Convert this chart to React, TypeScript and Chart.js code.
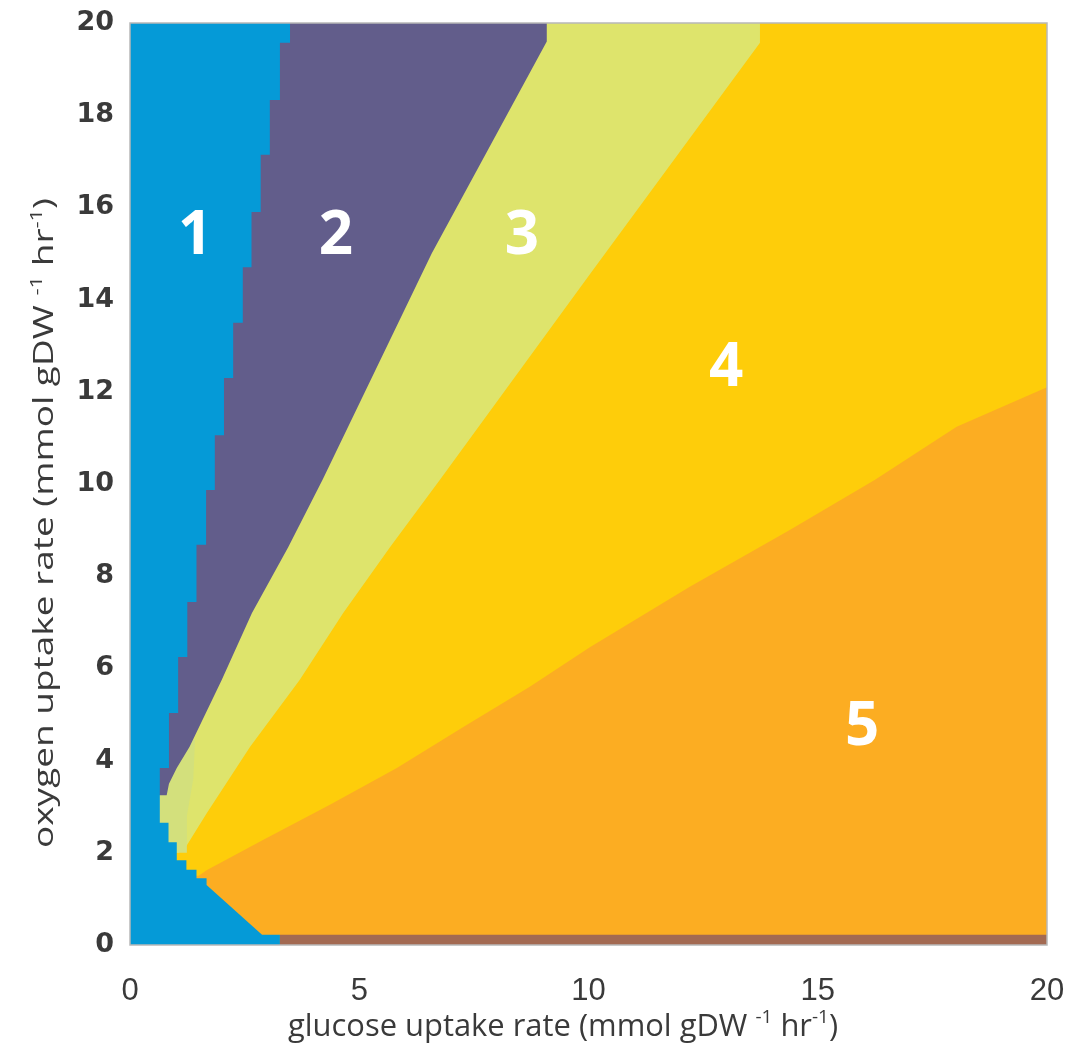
import React, { useEffect, useRef } from "react";
import { Chart, registerables } from "chart.js";

Chart.register(...registerables);

// ---------- axes ----------
const X_TICKS = [0, 5, 10, 15, 20];
const Y_TICKS = [0, 2, 4, 6, 8, 10, 12, 14, 16, 18, 20];
const X_MIN = 0, X_MAX = 20, Y_MIN = 0, Y_MAX = 20;

// ---------- phase boundaries (data units) ----------
// region 1 / region 2 staircase: x of each column step and the y where that step ends
const BLUE_STEP_X = [3.49, 3.27, 3.05, 2.85, 2.65, 2.46, 2.25, 2.05, 1.85, 1.66, 1.45, 1.25, 1.05, 0.85, 0.65, 0.84, 1.02, 1.23, 1.45, 1.67];
const BLUE_STEP_Y = [19.57, 18.33, 17.14, 15.9, 14.7, 13.5, 12.3, 11.06, 9.87, 8.68, 7.44, 6.25, 5.03, 3.84, 2.65, 2.23, 1.84, 1.63, 1.45, 1.3];
// region 1 lower edge towards the glucose axis
const BLUE_TAIL_X = [2.88, 3.27, 3.27, 0];
const BLUE_TAIL_Y = [0.22, 0.22, 0, 0];

// region 2 / region 3 edge
const PURPLE_EDGE_X = [9.09, 9.09, 6.58, 4.2, 3.45, 2.66, 2.0, 1.3, 1.02, 0.85, 0.8, 0];
const PURPLE_EDGE_Y = [20, 19.6, 15.0, 10.09, 8.63, 7.2, 5.75, 4.3, 3.84, 3.5, 3.25, 3.25];

// region 3 / region 4 edge
const GREEN_EDGE_X = [13.74, 13.74, 10.03, 6.76, 5.67, 4.65, 3.7, 2.62, 1.67, 1.2, 1.05, 0];
const GREEN_EDGE_Y = [20, 19.57, 14.55, 10.09, 8.63, 7.2, 5.75, 4.3, 2.85, 2.1, 2.0, 2.0];

// pale sub-strip of region 3 near the origin
const PALE_X = [0.6, 1.42, 1.38, 1.24, 1.24, 0.6];
const PALE_Y = [4.45, 4.45, 3.6, 2.8, 2.0, 2.0];

// region 4 / region 5 edge (from the right border to the left tip)
const YELLOW_EDGE_X = [20, 18.03, 16.25, 14.39, 12.21, 10.03, 8.72, 7.27, 5.82, 4.36, 2.9, 1.67, 1.5, 0];
const YELLOW_EDGE_Y = [12.1, 11.24, 10.09, 9.0, 7.77, 6.46, 5.6, 4.73, 3.84, 3.04, 2.28, 1.62, 1.5, 1.5];

// thin strip along the glucose axis
const BROWN_X = [3.27, 20, 20, 3.27];
const BROWN_Y = [0, 0, 0.22, 0.22];

// region labels
const REGION_LABELS = ["1", "2", "3", "4", "5"];
const LABEL_X = [1.42, 4.49, 8.55, 13.0, 15.97];
const LABEL_Y = [15.36, 15.36, 15.36, 12.5, 4.7];

const COLORS = {
  blue: "#059ad7",
  purple: "#625d8b",
  green: "#dee46c",
  pale: "#d3e07c",
  yellow: "#fecd0a",
  orange: "#fcad22",
  brown: "#a36a52",
};

type P = { x: number; y: number };
const zip = (xs: number[], ys: number[]): P[] => xs.map((x, i) => ({ x, y: ys[i] }));

function stairs(xs: number[], ys: number[], top: number): P[] {
  const pts: P[] = [{ x: xs[0], y: top }];
  for (let i = 0; i < xs.length; i++) {
    pts.push({ x: xs[i], y: ys[i] });
    if (i + 1 < xs.length) pts.push({ x: xs[i + 1], y: ys[i] });
  }
  return pts;
}

type Part = { t: string; sup?: boolean };
const TITLE_PARTS_X: Part[] = [
  { t: "glucose uptake rate (mmol gDW " },
  { t: "-1", sup: true },
  { t: " hr" },
  { t: "-1", sup: true },
  { t: ")" },
];
const TITLE_PARTS_Y: Part[] = [
  { t: "oxygen uptake rate (mmol gDW " },
  { t: "-1", sup: true },
  { t: " hr" },
  { t: "-1", sup: true },
  { t: ")" },
];

function drawRich(
  ctx: CanvasRenderingContext2D,
  parts: Part[],
  size: number,
  targetLen: number
) {
  const fam = "'Open Sans', 'Noto Sans', sans-serif";
  const supSize = Math.round(size * 0.6);
  let w = 0;
  for (const p of parts) {
    ctx.font = `${p.sup ? supSize : size}px ${fam}`;
    w += ctx.measureText(p.t).width;
  }
  const sx = targetLen / w;
  ctx.save();
  ctx.scale(sx, 1);
  let x = -w / 2;
  ctx.textBaseline = "alphabetic";
  ctx.textAlign = "left";
  for (const p of parts) {
    ctx.font = `${p.sup ? supSize : size}px ${fam}`;
    ctx.fillText(p.t, x, p.sup ? -size * 0.42 : 0);
    x += ctx.measureText(p.t).width;
  }
  ctx.restore();
}

const overlayPlugin = {
  id: "overlay",
  afterDatasetsDraw(chart: any) {
    const { ctx, chartArea, scales } = chart;
    // plot box
    ctx.save();
    ctx.strokeStyle = "#b8b8b8";
    ctx.lineWidth = 1.5;
    ctx.strokeRect(chartArea.left, chartArea.top, chartArea.right - chartArea.left, chartArea.bottom - chartArea.top);
    // region labels
    ctx.fillStyle = "#ffffff";
    ctx.font = "bold 60px 'Open Sans', 'DejaVu Sans', sans-serif";
    ctx.textAlign = "center";
    ctx.textBaseline = "middle";
    REGION_LABELS.forEach((lab, i) => {
      ctx.fillText(lab, scales.x.getPixelForValue(LABEL_X[i]), scales.y.getPixelForValue(LABEL_Y[i]));
    });
    ctx.restore();
  },
  afterDraw(chart: any) {
    const { ctx } = chart;
    ctx.save();
    ctx.fillStyle = "#3a3a3a";
    // x title
    ctx.save();
    ctx.translate(563, 1036);
    drawRich(ctx, TITLE_PARTS_X, 31, 550);
    ctx.restore();
    // y title
    ctx.save();
    ctx.translate(53, 523);
    ctx.rotate(-Math.PI / 2);
    drawRich(ctx, TITLE_PARTS_Y, 27, 650);
    ctx.restore();
    ctx.restore();
  },
};

export default function App() {
  const ref = useRef<HTMLCanvasElement | null>(null);

  useEffect(() => {
    if (!ref.current) return;
    const poly = (label: string, data: P[], color: string, order: number) => ({
      label,
      data,
      showLine: true,
      fill: "shape",
      backgroundColor: color,
      borderColor: "rgba(0,0,0,0)",
      borderWidth: 0,
      pointRadius: 0,
      tension: 0,
      order,
    });
    const orange: P[] = [
      { x: X_MIN, y: Y_MIN },
      { x: X_MAX, y: Y_MIN },
      { x: X_MAX, y: Y_MAX },
      { x: X_MIN, y: Y_MAX },
    ];
    const yellow: P[] = [{ x: X_MIN, y: Y_MAX }, { x: X_MAX, y: Y_MAX }, ...zip(YELLOW_EDGE_X, YELLOW_EDGE_Y)];
    const green: P[] = [{ x: X_MIN, y: Y_MAX }, ...zip(GREEN_EDGE_X, GREEN_EDGE_Y)];
    const pale: P[] = zip(PALE_X, PALE_Y);
    const purple: P[] = [{ x: X_MIN, y: Y_MAX }, ...zip(PURPLE_EDGE_X, PURPLE_EDGE_Y)];
    const blue: P[] = [{ x: X_MIN, y: Y_MAX }, ...stairs(BLUE_STEP_X, BLUE_STEP_Y, Y_MAX), ...zip(BLUE_TAIL_X, BLUE_TAIL_Y)];
    const brown: P[] = zip(BROWN_X, BROWN_Y);

    const chart = new Chart(ref.current, {
      type: "scatter",
      data: {
        datasets: [
          poly("5", orange, COLORS.orange, 6),
          poly("4", yellow, COLORS.yellow, 5),
          poly("3", green, COLORS.green, 4),
          poly("3b", pale, COLORS.pale, 3),
          poly("2", purple, COLORS.purple, 2),
          poly("1", blue, COLORS.blue, 1),
          poly("6", brown, COLORS.brown, 0),
        ] as any,
      },
      options: {
        animation: false,
        responsive: false,
        devicePixelRatio: 1,
        events: [],
        layout: { padding: { left: 0, right: 22, top: 23, bottom: 0 } },
        plugins: {
          legend: { display: false },
          tooltip: { enabled: false },
          title: { display: false },
        },
        scales: {
          x: {
            type: "linear",
            min: X_MIN,
            max: X_MAX,
            grid: { display: false },
            border: { display: false },
            afterBuildTicks: (s: any) => {
              s.ticks = X_TICKS.map((v) => ({ value: v }));
            },
            afterFit: (s: any) => {
              s.height = 106;
              s.paddingLeft = 0;
              s.paddingRight = 0;
            },
            ticks: {
              color: "#3a3a3a",
              padding: 20,
              font: { family: "'Liberation Sans Narrow', 'Liberation Sans', sans-serif", size: 31 },
            },
          },
          y: {
            type: "linear",
            min: Y_MIN,
            max: Y_MAX,
            grid: { display: false },
            border: { display: false },
            afterBuildTicks: (s: any) => {
              s.ticks = Y_TICKS.map((v) => ({ value: v }));
            },
            afterFit: (s: any) => {
              s.width = 130;
              s.paddingTop = 0;
              s.paddingBottom = 0;
            },
            ticks: {
              color: "#3a3a3a",
              padding: 8,
              font: { family: "'DejaVu Sans', sans-serif", size: 27, weight: "bold" },
            },
          },
        },
      },
      plugins: [overlayPlugin],
    } as any);
    return () => chart.destroy();
  }, []);

  return (
    <div style={{ position: "fixed", left: 0, top: 0, width: 1069, height: 1051, background: "#ffffff" }}>
      <canvas ref={ref} width={1069} height={1051} style={{ width: 1069, height: 1051, display: "block" }} />
    </div>
  );
}
